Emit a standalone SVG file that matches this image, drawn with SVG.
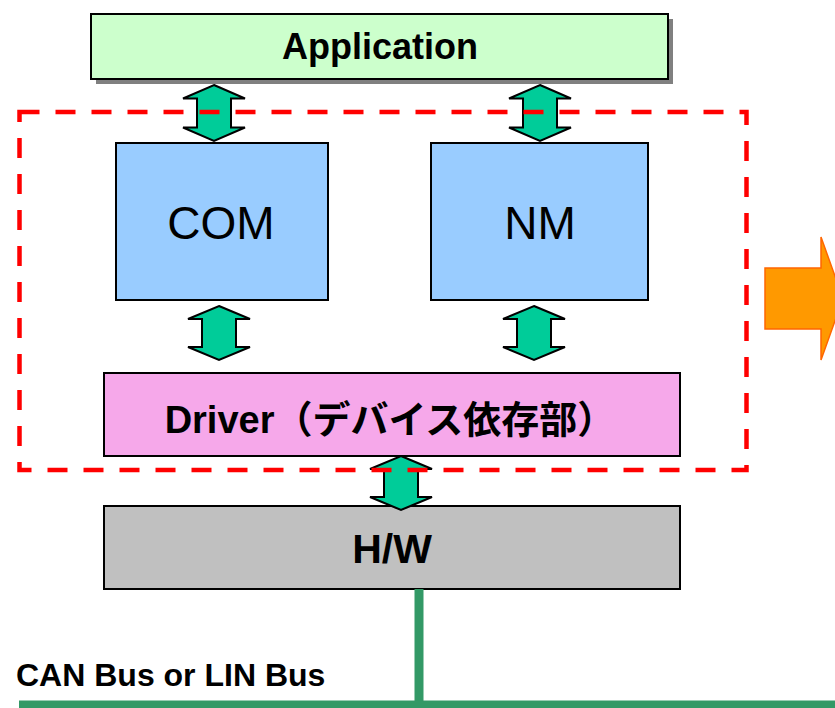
<svg xmlns="http://www.w3.org/2000/svg" width="835" height="708" viewBox="0 0 835 708">
<style>
.box{stroke:#000;stroke-width:2}
.lbl{font-family:"Liberation Sans","Noto Sans CJK JP",Arial,sans-serif;text-anchor:middle;fill:#000}
.b{font-weight:bold}
.arr{fill:#00CC99;stroke:#000;stroke-width:2;stroke-linejoin:miter}
</style>
<defs>
<path id="dbl" d="M0,0 L31,13 L17,13 L17,41 L31,41 L0,54 L-31,41 L-17,41 L-17,13 L-31,13 Z"/>
</defs>
<rect width="835" height="708" fill="#fff"/>

<g id="app">
<rect x="96" y="19" width="577" height="65" fill="#808080"/>
<rect class="box" x="91" y="14" width="577" height="65" fill="#CCFFCC"/>
<text class="lbl b" x="380" y="59" font-size="36">Application</text>
</g>

<g id="com">
<rect class="box" x="116" y="143" width="212" height="157" fill="#99CCFF"/>
<text class="lbl" x="221" y="239" font-size="46">COM</text>
</g>

<g id="nm">
<rect class="box" x="431" y="143" width="217" height="157" fill="#99CCFF"/>
<text class="lbl" x="540" y="239" font-size="46">NM</text>
</g>

<g id="driver">
<rect class="box" x="104" y="373" width="576" height="83" fill="#F6A8EA"/>
<text class="lbl b" x="390" y="433" font-size="38">Driver（デバイス依存部）</text>
</g>

<g id="hw">
<rect class="box" x="104" y="506" width="576" height="83" fill="#C0C0C0"/>
<text class="lbl b" x="392" y="563" font-size="41">H/W</text>
</g>

<g id="connectors">
<use href="#dbl" class="arr" transform="translate(214,85) scale(1,1.037)"/>
<use href="#dbl" class="arr" transform="translate(540,85) scale(1,1.037)"/>
<use href="#dbl" class="arr" transform="translate(219,306)"/>
<use href="#dbl" class="arr" transform="translate(534,306)"/>
<use href="#dbl" class="arr" transform="translate(401,456)"/>
<line x1="419" y1="589" x2="419" y2="704" stroke="#339966" stroke-width="9"/>
<line x1="19" y1="704.5" x2="835" y2="704.5" stroke="#339966" stroke-width="8"/>
</g>

<g id="boundary">
<rect x="19.5" y="112" width="727" height="358" fill="none" stroke="#FF0000" stroke-width="4.5" stroke-dasharray="20 16"/>
</g>

<g id="output-arrow">
<path d="M765,268 L821,268 L821,237 L843,298.5 L821,360 L821,329 L765,329 Z" fill="#FF9900" stroke="#FF6600" stroke-width="1.5"/>
</g>

<g id="bus-label">
<text class="lbl b" x="16" y="686" font-size="32" style="text-anchor:start">CAN Bus or LIN Bus</text>
</g>
</svg>
